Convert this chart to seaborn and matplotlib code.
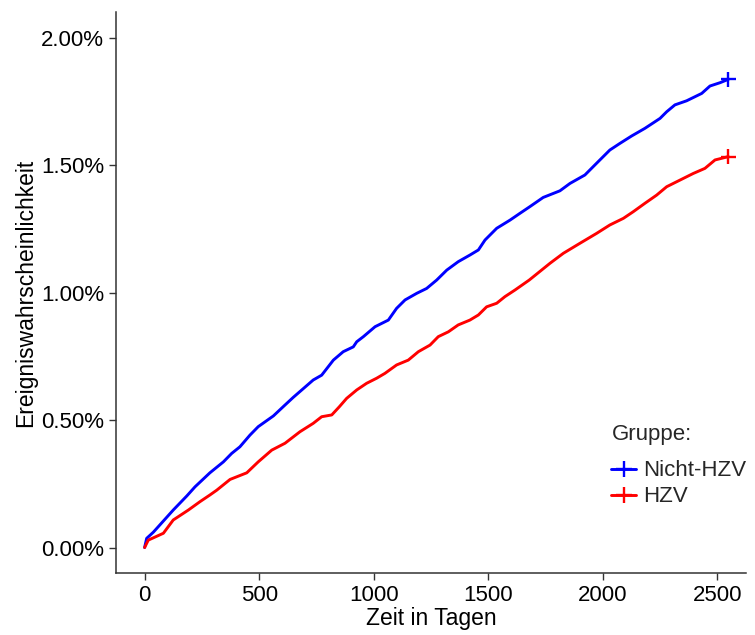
import matplotlib
matplotlib.use("Agg")
import matplotlib.pyplot as plt
import pandas as pd
import seaborn as sns
from matplotlib.lines import Line2D
from matplotlib.ticker import FuncFormatter

sns.set_theme(style="ticks")
plt.rcParams["font.family"] = ["Liberation Sans", "DejaVu Sans"]

# cumulative incidence (%)
days_nicht = [0, 9, 38, 89, 125, 184, 220, 285, 344, 380, 416, 460, 496, 562, 613,
              649, 736, 773, 824, 867, 911, 926, 955, 1006, 1064, 1100, 1137, 1188,
              1231, 1275, 1319, 1369, 1420, 1457, 1486, 1537, 1595, 1639, 1682, 1740,
              1813, 1857, 1922, 1973, 2031, 2075, 2126, 2184, 2250, 2279, 2315, 2366,
              2432, 2468, 2512, 2548]
pct_nicht = [0.000, 0.036, 0.060, 0.111, 0.147, 0.202, 0.238, 0.293, 0.336, 0.369,
             0.395, 0.441, 0.474, 0.516, 0.559, 0.589, 0.657, 0.676, 0.735, 0.768,
             0.787, 0.807, 0.827, 0.866, 0.892, 0.938, 0.971, 0.997, 1.016, 1.049,
             1.088, 1.121, 1.147, 1.167, 1.206, 1.252, 1.284, 1.311, 1.337, 1.373,
             1.399, 1.428, 1.461, 1.507, 1.559, 1.585, 1.614, 1.644, 1.683, 1.709,
             1.736, 1.752, 1.781, 1.810, 1.823, 1.836]

days_hzv = [0, 16, 82, 125, 191, 242, 285, 315, 373, 446, 496, 555, 613, 678, 736,
            773, 817, 850, 882, 926, 969, 1013, 1049, 1100, 1151, 1195, 1246, 1282,
            1326, 1369, 1420, 1457, 1493, 1537, 1573, 1617, 1679, 1770, 1828, 1900,
            1973, 2031, 2090, 2133, 2184, 2235, 2279, 2337, 2395, 2446, 2490, 2548]
pct_hzv = [0.000, 0.029, 0.056, 0.108, 0.147, 0.180, 0.206, 0.225, 0.267, 0.293,
           0.336, 0.382, 0.409, 0.454, 0.487, 0.513, 0.520, 0.552, 0.585, 0.618,
           0.644, 0.664, 0.683, 0.716, 0.735, 0.768, 0.794, 0.827, 0.846, 0.873,
           0.892, 0.912, 0.944, 0.958, 0.984, 1.010, 1.049, 1.115, 1.154, 1.193,
           1.232, 1.265, 1.291, 1.317, 1.350, 1.382, 1.415, 1.441, 1.467, 1.487,
           1.520, 1.533]

groups = ["Nicht-HZV", "HZV"]
colors = {"Nicht-HZV": "#0000FF", "HZV": "#FF0000"}

df = pd.concat([
    pd.DataFrame({"zeit": days_nicht, "pct": pct_nicht, "gruppe": "Nicht-HZV"}),
    pd.DataFrame({"zeit": days_hzv, "pct": pct_hzv, "gruppe": "HZV"}),
])
df["prob"] = df["pct"] / 100

fig = plt.figure(figsize=(7.55, 6.35), dpi=100)
ax = fig.add_axes([0.1536, 0.0976, 0.8344, 0.8834])

sns.lineplot(data=df, x="zeit", y="prob", hue="gruppe", hue_order=groups,
             palette=colors, linewidth=2.1, estimator=None, legend=False, ax=ax)

# censoring marks at the end of each curve
last = df.groupby("gruppe").tail(1)
sns.scatterplot(data=last, x="zeit", y="prob", hue="gruppe", hue_order=groups,
                palette=colors, marker="+", s=120, linewidth=1.7,
                legend=False, ax=ax, zorder=5)

ax.set_xlim(-125, 2625)
ax.set_ylim(-0.001, 0.021)
ax.set_xticks([0, 500, 1000, 1500, 2000, 2500])
ax.set_yticks([0.0, 0.005, 0.01, 0.015, 0.02])
ax.yaxis.set_major_formatter(FuncFormatter(lambda v, p: f"{v * 100:.2f}%"))

ax.set_xlabel("Zeit in Tagen", fontsize=16.5, color="black", labelpad=1)
ax.set_ylabel("Ereigniswahrscheinlichkeit", fontsize=16.5, color="black", labelpad=3)
ax.tick_params(axis="both", labelsize=16, colors="#333333", labelcolor="black",
               length=5, width=1)
for side in ["top", "right"]:
    ax.spines[side].set_visible(False)
for side in ["left", "bottom"]:
    ax.spines[side].set_color("#333333")
    ax.spines[side].set_linewidth(1.1)

handles = [Line2D([0], [0], color=colors[g], lw=2.1, marker="+", markersize=11,
                  markeredgewidth=1.7) for g in groups]
leg = fig.legend(handles, groups, title="Gruppe:", loc="upper left",
                 bbox_to_anchor=(0.798, 0.346), frameon=False, fontsize=16,
                 title_fontsize=16, handlelength=1.1, handletextpad=0.35,
                 labelspacing=0.22, borderaxespad=0)
leg._legend_box.align = "left"
leg._legend_box.sep = 11

fig.savefig("out.png", dpi=100)
